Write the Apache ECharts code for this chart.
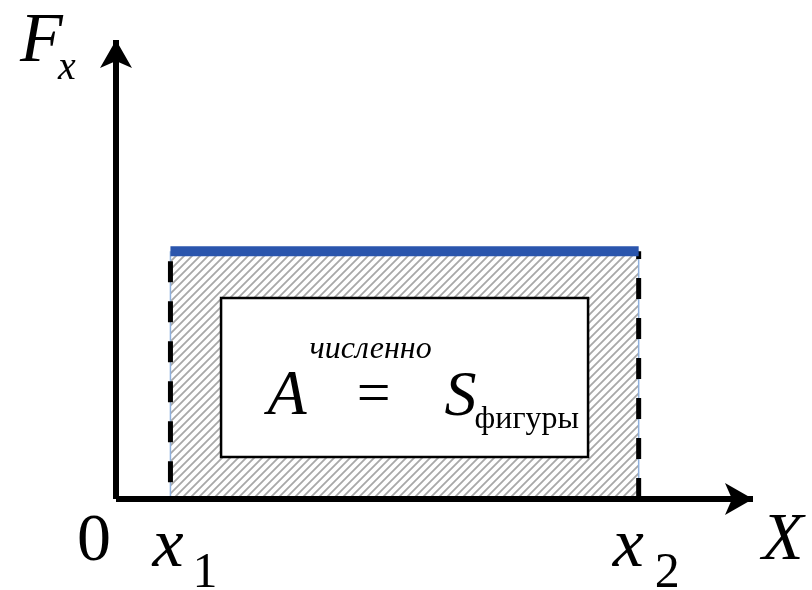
<!DOCTYPE html>
<html>
<head>
<meta charset="utf-8">
<script src="https://cdn.jsdelivr.net/npm/echarts@6/dist/echarts.min.js"></script>
<style>
  html, body { margin: 0; padding: 0; background: #fff; }
  #chart { width: 812px; height: 590px; }
</style>
</head>
<body>
<div id="chart"></div>
<script>
// Work of a constant force F_x on the segment [x1, x2]
const boundsX = [1, 9.6];          // x1, x2
const forceLevel = [5.4];          // F_x on [x1, x2]
const axisMaxX = [11.7];
const axisMaxY = [10];
const tickMain = ['0', 'x', 'x'];  // labels under 0, x1, x2
const tickSub = ['', '1', '2'];
const axisTitles = ['X', 'F', 'x'];            // x-axis name, y-axis name + subscript
const formulaParts = ['A', '=', 'S', 'фигуры', 'численно'];

const SERIF = '"Liberation Serif", "DejaVu Serif", "Times New Roman", serif';
const BLUE = '#2a55ad';

// diagonal hatch used to fill the area under the force line
function hatchCanvas() {
  const c = document.createElement('canvas');
  c.width = 8; c.height = 8;
  const g = c.getContext('2d');
  g.fillStyle = '#ffffff';
  g.fillRect(0, 0, 8, 8);
  g.strokeStyle = '#a8a8a8';
  g.lineWidth = 1.8;
  g.beginPath();
  g.moveTo(-2, 10); g.lineTo(10, -2);
  g.moveTo(-2, 2); g.lineTo(2, -2);
  g.moveTo(6, 10); g.lineTo(10, 6);
  g.stroke();
  return c;
}

const x1 = boundsX[0], x2 = boundsX[1], F = forceLevel[0];
const chart = echarts.init(document.getElementById('chart'), null, { renderer: 'canvas' });

const axisCommon = {
  type: 'value',
  min: 0,
  z: 10,
  splitLine: { show: false },
  axisTick: { show: false },
  axisLabel: { show: false },
  axisLine: {
    show: true,
    symbol: ['none', 'arrow'],
    symbolSize: [24, 28],
    lineStyle: { color: '#000', width: 6, cap: 'butt' }
  }
};

chart.setOption({
  animation: false,
  backgroundColor: '#fff',
  grid: { left: 116, right: 59, top: 40, bottom: 91 },
  xAxis: Object.assign({}, axisCommon, { max: axisMaxX[0] }),
  yAxis: Object.assign({}, axisCommon, { max: axisMaxY[0] }),
  series: [
    {
      type: 'line', z: 1, symbol: 'none', silent: true,
      data: boundsX.map(x => [x, F]),
      lineStyle: { width: 0 },
      areaStyle: { color: { image: hatchCanvas(), repeat: 'repeat' }, opacity: 1 }
    },
    {
      type: 'line', z: 2, symbol: 'none', silent: true,
      data: [[x1, 0], [x1, F]],
      lineStyle: { color: '#8fb0dd', width: 1.5 }
    },
    {
      type: 'line', z: 2, symbol: 'none', silent: true,
      data: [[x2, 0], [x2, F]],
      lineStyle: { color: '#8fb0dd', width: 1.5 }
    },
    {
      type: 'line', z: 3, symbol: 'none', silent: true,
      data: [[x1, F], [x1, 0]],
      lineStyle: { color: '#000', width: 5, type: [21, 19], dashOffset: 30, cap: 'butt' }
    },
    {
      type: 'line', z: 3, symbol: 'none', silent: true,
      data: [[x2, 0], [x2, F]],
      lineStyle: { color: '#000', width: 5, type: [21, 19], dashOffset: 0, cap: 'butt' }
    },
    {
      type: 'line', z: 4, symbol: 'none', silent: true,
      data: boundsX.map(x => [x, F]),
      lineStyle: { color: BLUE, width: 10, cap: 'butt' }
    }
  ]
});

// text placed relative to axis points; vertical offsets are alphabetic baselines
function txt(x, yBase, text, size, italic, align) {
  return {
    type: 'text', z: 20, x: x, y: yBase - size * 0.28,
    style: {
      text: text, fill: '#000', align: align || 'left', verticalAlign: 'middle',
      font: (italic ? 'italic ' : '') + size + 'px ' + SERIF
    }
  };
}

const px = p => chart.convertToPixel({ gridIndex: 0 }, p);
const O = px([0, 0]);
const P1 = px([x1, 0]);
const P2 = px([x2, 0]);
const XE = px([axisMaxX[0], 0]);
const YE = px([0, axisMaxY[0]]);
const TL = px([x1, F]);
// formula frame sits slightly below the middle of the hatched area
const center = [(TL[0] + P2[0]) / 2, (TL[1] + P2[1]) / 2 + 2.5];
const boxW = 367, boxH = 159;

const graphics = [
  txt(O[0] - 22, O[1] + 62, tickMain[0], 68, false, 'center'),
  txt(P1[0] - 18, P1[1] + 68, tickMain[1], 70, true),
  txt(P1[0] + 22, P1[1] + 89, tickSub[1], 50, false),
  txt(P2[0] - 26, P2[1] + 68, tickMain[2], 70, true),
  txt(P2[0] + 16, P2[1] + 89, tickSub[2], 50, false),
  txt(XE[0] + 9, XE[1] + 61, axisTitles[0], 68, true),
  txt(YE[0] - 96, YE[1] + 22, axisTitles[1], 70, true),
  txt(YE[0] - 58, YE[1] + 40, axisTitles[2], 40, true),
  {
    type: 'rect', z: 15,
    shape: { x: center[0] - boxW / 2, y: center[1] - boxH / 2, width: boxW, height: boxH },
    style: { fill: '#fff', stroke: '#000', lineWidth: 2.5 }
  },
  txt(center[0] - 137, center[1] + 38, formulaParts[0], 64, true),
  txt(center[0] - 31, center[1] + 35, formulaParts[1], 60, false, 'center'),
  txt(center[0] + 40, center[1] + 39, formulaParts[2], 64, true),
  txt(center[0] + 70, center[1] + 51, formulaParts[3], 32, false),
  txt(center[0] - 95, center[1] - 19, formulaParts[4], 32, true)
];

chart.setOption({ graphic: graphics });
</script>
</body>
</html>
